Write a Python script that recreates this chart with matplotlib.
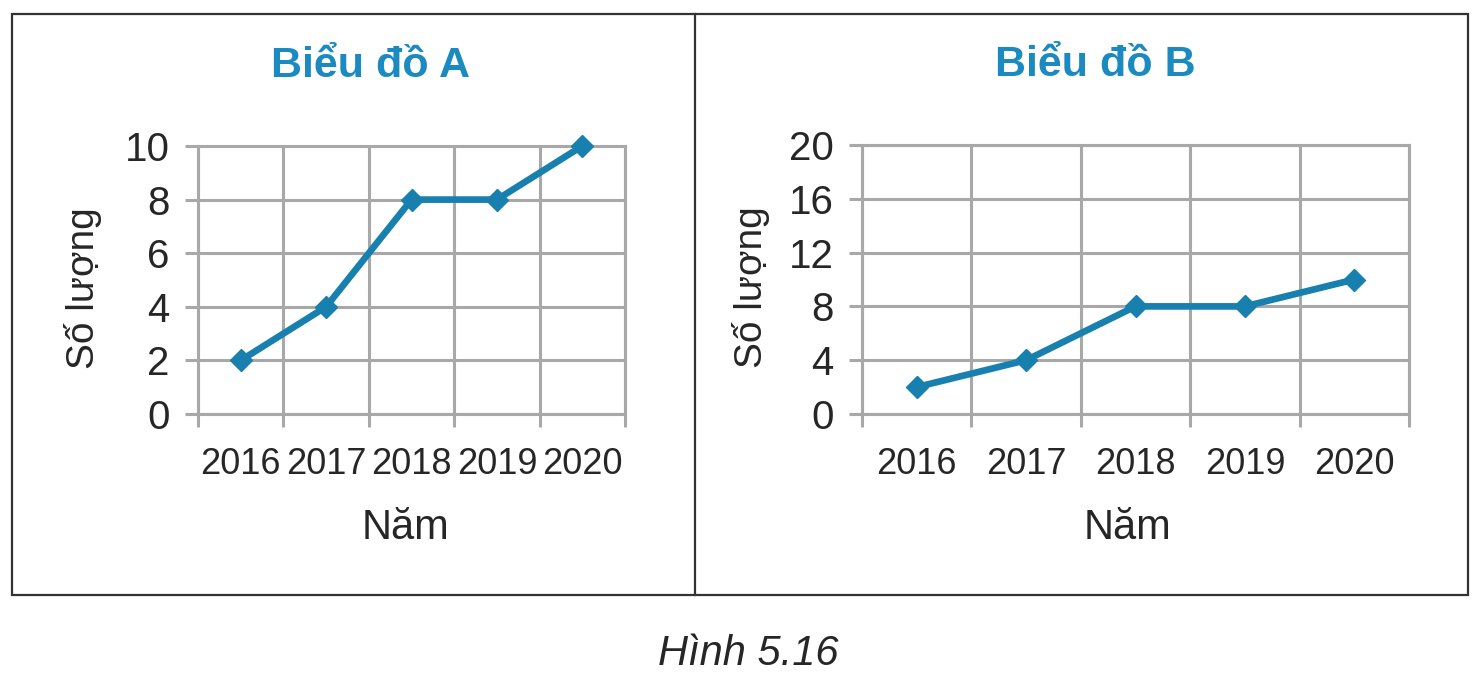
import matplotlib
matplotlib.use("Agg")
import matplotlib.pyplot as plt
from matplotlib.patches import Rectangle
from matplotlib.lines import Line2D

years = ["2016", "2017", "2018", "2019", "2020"]
values_a = [2, 4, 8, 8, 10]
values_b = [2, 4, 8, 8, 10]
yticks_a = [0, 2, 4, 6, 8, 10]
yticks_b = [0, 4, 8, 12, 16, 20]

LINE = "#1780ae"
TITLE = "#1a8ac0"
GRID = "#a8a8a8"
TEXT = "#262626"

plt.rcParams["font.family"] = ["Liberation Sans", "DejaVu Sans"]

fig = plt.figure(figsize=(14.81, 6.82), dpi=100)


def draw_panel(rect, values, yticks, title, title_x, ylabel_x):
    ax = fig.add_axes(rect)
    n = len(values)
    x = list(range(n))
    ax.plot(x, values, color=LINE, lw=4.8, marker="D", ms=11,
            solid_joinstyle="round", zorder=5, clip_on=False)
    ax.set_xlim(-0.5, n - 0.5)
    ax.set_ylim(yticks[0], yticks[-1])

    # category boundaries carry the grid + ticks, labels sit in between
    ax.set_xticks([i - 0.5 for i in range(n + 1)])
    ax.set_xticklabels([])
    ax.set_xticks(x, minor=True)
    ax.set_xticklabels(years, minor=True, fontsize=26, color=TEXT)
    ax.tick_params(axis="x", which="minor", length=0, pad=24)
    ax.tick_params(axis="x", which="major", length=9.5, width=2.2, color=GRID)

    ax.set_yticks(yticks)
    ax.set_yticklabels([str(t) for t in yticks], fontsize=29, color=TEXT)
    ax.tick_params(axis="y", length=9.5, width=2.2, color=GRID, pad=11)

    ax.grid(True, which="major", color=GRID, lw=2.2)
    ax.set_axisbelow(True)
    for s in ax.spines.values():
        s.set_color(GRID)
        s.set_linewidth(2.2)

    ax.set_title(title, fontsize=31, fontweight="bold", color=TITLE,
                 x=title_x, y=1.225)
    ax.set_ylabel("Số lượng", fontsize=28, color=TEXT)
    ax.yaxis.set_label_coords(ylabel_x, 0.47)
    ax.set_xlabel("Năm", fontsize=30, color=TEXT)
    ax.xaxis.set_label_coords(0.485, -0.35)
    return ax


draw_panel([198 / 1481, 268 / 682, 427 / 1481, 268 / 682],
           values_a, yticks_a, "Biểu đồ A", 0.405, -0.225)
draw_panel([862 / 1481, 268 / 682, 547 / 1481, 269 / 682],
           values_b, yticks_b, "Biểu đồ B", 0.426, -0.168)

# outer frame and divider
left, right = 12 / 1481, 1468 / 1481
bottom, top = 1 - 595 / 682, 1 - 14 / 682
fig.patches.append(Rectangle((left, bottom), right - left, top - bottom,
                             transform=fig.transFigure, fill=False,
                             edgecolor="#333333", lw=1.6))
fig.lines.append(Line2D([695 / 1481, 695 / 1481], [bottom, top],
                        transform=fig.transFigure, color="#333333", lw=1.6))

fig.text(748 / 1481, 1 - 654 / 682, "Hình 5.16", fontsize=30,
         style="italic", color=TEXT, ha="center", va="center")

fig.savefig("out.png", dpi=100)
